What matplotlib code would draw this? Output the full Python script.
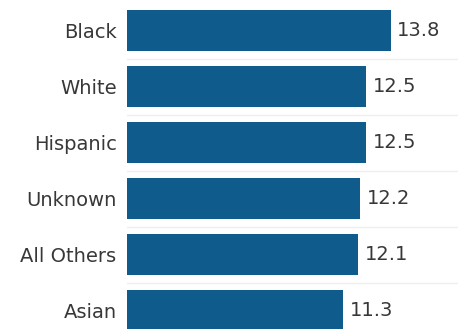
import matplotlib.pyplot as plt

groups = ["Black", "White", "Hispanic", "Unknown", "All Others", "Asian"]
values = [13.8, 12.5, 12.5, 12.2, 12.1, 11.3]

plt.rcParams['font.family'] = ['DejaVu Sans']

fig = plt.figure(figsize=(4.58, 3.29), dpi=100)
ax = fig.add_axes([127 / 458, 0, 331 / 458, 1])

pos = list(range(len(groups)))
ax.barh(pos, values, height=0.73, color="#0f5b8c")

# faint row separators
for p in pos[:-1]:
    ax.axhline(p + 0.5, color="#eeeeee", lw=1)

for p, v in zip(pos, values):
    ax.text(v + 0.33, p, f"{v}", va="center", ha="left", fontsize=14, color="#383838")

ax.set_yticks(pos)
ax.set_yticklabels(groups, fontsize=14, color="#383838")
ax.tick_params(axis="y", length=0, pad=7.5)
ax.set_xticks([])
ax.set_xlim(0, 331 / 19.13)
ax.set_ylim(5.33, -0.545)
for s in ax.spines.values():
    s.set_visible(False)

fig.savefig("out.png", dpi=100)
